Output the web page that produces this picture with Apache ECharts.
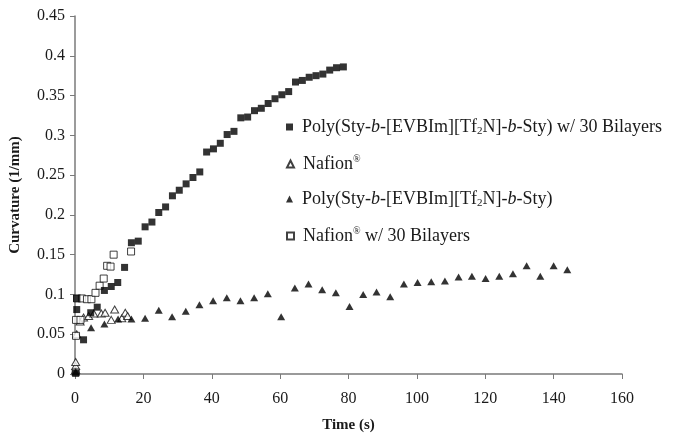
<!DOCTYPE html>
<html>
<head>
<meta charset="utf-8">
<script src="https://cdn.jsdelivr.net/npm/echarts@6/dist/echarts.min.js"></script>
<style>
html,body{margin:0;padding:0;background:#fff;}
#chart{width:678px;height:438px;}
</style>
</head>
<body>
<div id="chart"></div>
<script>
// Series names
const seriesNames = [
  "Poly(Sty-b-[EVBIm][Tf2N]-b-Sty) w/ 30 Bilayers",
  "Nafion®",
  "Poly(Sty-b-[EVBIm][Tf2N]-b-Sty)",
  "Nafion® w/ 30 Bilayers"
];

// Poly(Sty-b-[EVBIm][Tf2N]-b-Sty) w/ 30 Bilayers (filled squares)
const polyBilayerTime = [0.2, 0.5, 0.5, 2.5, 4.6, 6.5, 8.6, 10.6, 12.5, 14.5, 16.5, 18.5, 20.5, 22.5, 24.5, 26.5, 28.5, 30.5, 32.5, 34.5, 36.5, 38.5, 40.5, 42.5, 44.5, 46.5, 48.5, 50.5, 52.5, 54.5, 56.5, 58.5, 60.5, 62.5, 64.5, 66.5, 68.5, 70.5, 72.5, 74.5, 76.5, 78.5];
const polyBilayerCurv = [0.001, 0.081, 0.095, 0.043, 0.077, 0.084, 0.105, 0.110, 0.115, 0.134, 0.165, 0.167, 0.185, 0.191, 0.203, 0.210, 0.224, 0.231, 0.239, 0.247, 0.254, 0.279, 0.283, 0.290, 0.301, 0.305, 0.322, 0.323, 0.331, 0.334, 0.340, 0.346, 0.351, 0.355, 0.367, 0.369, 0.373, 0.375, 0.377, 0.382, 0.385, 0.386];

// Nafion (open triangles)
const nafionTime = [0.2, 0.2, 0.2, 0.5, 1.5, 2.5, 4.0, 5.5, 7.7, 8.8, 10.6, 11.6, 13.7, 14.7, 15.4];
const nafionCurv = [0.005, 0.010, 0.015, 0.050, 0.066, 0.071, 0.073, 0.076, 0.076, 0.077, 0.068, 0.081, 0.070, 0.077, 0.073];

// Poly(Sty-b-[EVBIm][Tf2N]-b-Sty) (filled triangles)
const polyTime = [0.2, 4.7, 8.6, 12.6, 16.5, 20.5, 24.5, 28.4, 32.4, 36.4, 40.4, 44.4, 48.4, 52.4, 56.4, 60.3, 64.3, 68.3, 72.3, 76.3, 80.3, 84.3, 88.2, 92.2, 96.2, 100.2, 104.2, 108.2, 112.2, 116.1, 120.1, 124.1, 128.1, 132.1, 136.1, 140.0, 144.0];
const polyCurv = [0.003, 0.058, 0.063, 0.069, 0.069, 0.070, 0.080, 0.072, 0.079, 0.087, 0.092, 0.096, 0.092, 0.096, 0.101, 0.072, 0.108, 0.113, 0.106, 0.102, 0.085, 0.100, 0.103, 0.097, 0.113, 0.115, 0.116, 0.117, 0.122, 0.123, 0.120, 0.123, 0.126, 0.136, 0.123, 0.136, 0.131];

// Nafion w/ 30 Bilayers (open squares)
const nafionBilayerTime = [0.2, 0.3, 0.3, 1.6, 0.6, 2.0, 3.5, 4.8, 6.0, 7.2, 8.4, 9.4, 10.4, 11.3, 16.4];
const nafionBilayerCurv = [0.002, 0.048, 0.068, 0.068, 0.095, 0.095, 0.094, 0.094, 0.102, 0.111, 0.120, 0.136, 0.135, 0.150, 0.154];

// Axis ticks
const xTicks = [0, 20, 40, 60, 80, 100, 120, 140, 160];
const yTicks = [0, 0.05, 0.1, 0.15, 0.2, 0.25, 0.3, 0.35, 0.4, 0.45];

function pairs(xs, ys) { return xs.map((x, i) => [x, ys[i]]); }

const FS = 18;
const legendRich = {
  n: {fontFamily: 'Liberation Serif', fontSize: FS, color: '#1a1a1a', lineHeight: 20},
  i: {fontFamily: 'Liberation Serif', fontSize: FS, fontStyle: 'italic', color: '#1a1a1a', lineHeight: 20},
  sub: {fontFamily: 'Liberation Serif', fontSize: 11, color: '#1a1a1a', lineHeight: 11, verticalAlign: 'bottom'},
  sup: {fontFamily: 'Liberation Serif', fontSize: 10, color: '#1a1a1a', lineHeight: 11, verticalAlign: 'top'}
};

const legendLabels = {};
legendLabels[seriesNames[0]] = '{n|Poly(Sty-}{i|b}{n|-[EVBIm][Tf}{sub|2}{n|N]-}{i|b}{n|-Sty) w/ 30 Bilayers}';
legendLabels[seriesNames[1]] = '{n|Nafion}{sup|®}';
legendLabels[seriesNames[2]] = '{n|Poly(Sty-}{i|b}{n|-[EVBIm][Tf}{sub|2}{n|N]-}{i|b}{n|-Sty)}';
legendLabels[seriesNames[3]] = '{n|Nafion}{sup|®}{n| w/ 30 Bilayers}';

const legendRowTops = [118, 154, 190, 226];

const legends = seriesNames.map((name, k) => ({
  orient: 'vertical', left: 286, top: legendRowTops[k], padding: 0,
  itemWidth: 7, itemHeight: 7,
  data: [name],
  formatter: nm => legendLabels[nm],
  textStyle: {rich: legendRich, fontFamily: 'Liberation Serif', fontSize: FS, color: '#1a1a1a', padding: [0, 0, 0, 4]},
  selectedMode: false
}));

const chart = echarts.init(document.getElementById('chart'), null, {renderer: 'canvas'});
const axisColor = '#7a7a7a';
const labelFont = {fontFamily: 'Liberation Serif', fontSize: 16, color: '#1a1a1a'};

chart.setOption({
  animation: false,
  backgroundColor: '#fff',
  grid: {left: 72, right: 56, top: 16, bottom: 60, containLabel: false},
  xAxis: {
    type: 'value', min: xTicks[0], max: xTicks[xTicks.length - 1], interval: 20,
    name: 'Time (s)', nameLocation: 'middle', nameGap: 44,
    nameTextStyle: {fontFamily: 'Liberation Serif', fontSize: 15, fontWeight: 'bold', color: '#1a1a1a'},
    axisLine: {show: true, lineStyle: {color: axisColor, width: 1.5}},
    axisTick: {show: true, length: 5, lineStyle: {color: axisColor}},
    axisLabel: Object.assign({margin: 17}, labelFont),
    splitLine: {show: false}
  },
  yAxis: {
    type: 'value', min: yTicks[0], max: yTicks[yTicks.length - 1], interval: 0.05,
    name: 'Curvature (1/mm)', nameLocation: 'middle', nameGap: 52, nameRotate: 90,
    nameTextStyle: {fontFamily: 'Liberation Serif', fontSize: 15, fontWeight: 'bold', color: '#1a1a1a'},
    axisLine: {show: true, lineStyle: {color: axisColor, width: 1.5}},
    axisTick: {show: true, length: 5, lineStyle: {color: axisColor}},
    axisLabel: Object.assign({margin: 10, formatter: v => String(+v.toFixed(2))}, labelFont),
    splitLine: {show: false}
  },
  legend: legends,
  series: [
    {
      name: seriesNames[1], type: 'scatter', data: pairs(nafionTime, nafionCurv),
      symbol: 'triangle', symbolSize: [8, 7],
      itemStyle: {color: '#fff', borderColor: '#111', borderWidth: 1}
    },
    {
      name: seriesNames[3], type: 'scatter', data: pairs(nafionBilayerTime, nafionBilayerCurv),
      symbol: 'rect', symbolSize: 7,
      itemStyle: {color: '#fff', borderColor: '#111', borderWidth: 1}
    },
    {
      name: seriesNames[2], type: 'scatter', data: pairs(polyTime, polyCurv),
      symbol: 'triangle', symbolSize: [8, 7],
      itemStyle: {color: '#000'}
    },
    {
      name: seriesNames[0], type: 'scatter', data: pairs(polyBilayerTime, polyBilayerCurv),
      symbol: 'rect', symbolSize: 7,
      itemStyle: {color: '#000'}
    }
  ]
});
</script>
</body>
</html>
